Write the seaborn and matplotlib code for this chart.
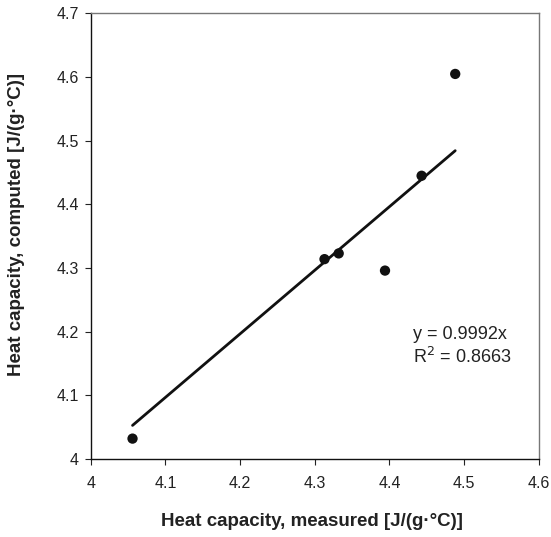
import matplotlib
matplotlib.use("Agg")
import matplotlib.pyplot as plt
import seaborn as sns
import pandas as pd
import numpy as np

measured = [4.056, 4.313, 4.332, 4.394, 4.443, 4.488]
computed = [4.032, 4.314, 4.323, 4.296, 4.445, 4.605]
slope = 0.9992
r2 = 0.8663
x_ticks = [4, 4.1, 4.2, 4.3, 4.4, 4.5, 4.6]
x_tick_labels = ["4", "4.1", "4.2", "4.3", "4.4", "4.5", "4.6"]
y_ticks = [4, 4.1, 4.2, 4.3, 4.4, 4.5, 4.6, 4.7]
y_tick_labels = ["4", "4.1", "4.2", "4.3", "4.4", "4.5", "4.6", "4.7"]

sns.set_style("white")
plt.rcParams['font.family'] = ['Liberation Sans', 'DejaVu Sans']

df = pd.DataFrame({"measured": measured, "computed": computed})
xr = np.array([min(measured), max(measured)])
trend = pd.DataFrame({"x": xr, "y": slope * xr})

W, H = 551, 537
fig = plt.figure(figsize=(W / 100, H / 100), dpi=100)
ax = fig.add_axes([0.1646, 0.1453, 0.8134, 0.8296])

sns.lineplot(data=trend, x="x", y="y", ax=ax, color="#111111", linewidth=2.0)
sns.scatterplot(data=df, x="measured", y="computed", ax=ax, color="#111111",
                s=55, edgecolor="none", zorder=3)

ax.set_xlim(4, 4.6)
ax.set_ylim(4, 4.7)
ax.set_xticks(x_ticks)
ax.set_xticklabels(x_tick_labels)
ax.set_yticks(y_ticks)
ax.set_yticklabels(y_tick_labels)
ax.tick_params(axis="both", which="major", direction="out", length=4, width=0.8,
               labelsize=11.5, colors="#222222", bottom=True, left=True)
ax.tick_params(axis="y", pad=4.5)
ax.tick_params(axis="x", pad=8)

for side in ["left", "bottom"]:
    ax.spines[side].set_color("#111111")
    ax.spines[side].set_linewidth(1.0)
for side in ["top", "right"]:
    ax.spines[side].set_color("#777777")
    ax.spines[side].set_linewidth(1.0)

ax.set_xlabel("Heat capacity, measured [J/(g·°C)]", fontsize=13.5, fontweight="bold",
              color="#222222")
ax.set_ylabel("Heat capacity, computed [J/(g·°C)]", fontsize=13.5, fontweight="bold",
              color="#222222")
# position labels in figure pixel coords
ax.xaxis.set_label_coords(312 / W, 1 - 522 / H, transform=fig.transFigure)
ax.yaxis.set_label_coords(16.5 / W, 1 - 224 / H, transform=fig.transFigure)
ax.xaxis.label.set_va("center")
ax.yaxis.label.set_va("center")

ax.text(4.431, 4.195, f"y = {slope}x", fontsize=13, color="#222222", va="center")
ax.text(4.431, 4.160, f"R$^2$ = {r2}", fontsize=13, color="#222222", va="center")

fig.savefig("out.png", dpi=100)
